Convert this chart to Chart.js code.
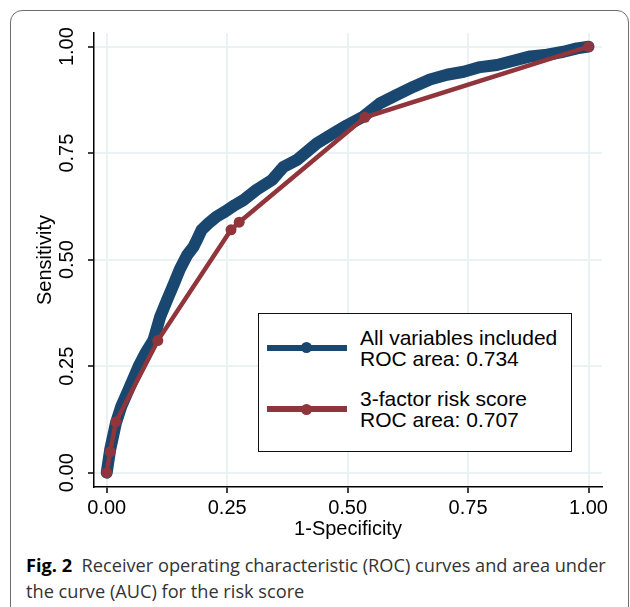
<!DOCTYPE html>
<html>
<head>
<meta charset="utf-8">
<script src="https://cdn.jsdelivr.net/npm/chart.js@4"></script>
<style>
  body { margin: 0; background: #fff; }
  #page { position: relative; width: 630px; height: 607px; overflow: hidden; }
  #frame {
    position: absolute; left: 10px; top: 10px; width: 619px; height: 640px;
    border: 1.5px solid #6e6e6e; border-radius: 12px; box-sizing: border-box;
  }
  #wrap { position: absolute; left: 0; top: 0; width: 630px; height: 545px; }
  #legend {
    position: absolute; left: 258px; top: 313px; width: 314px; height: 139px;
    border: 1.5px solid #111; box-sizing: border-box; background: #fff;
    font-family: "Liberation Sans", Arial, sans-serif; font-size: 21px; line-height: 21px; color: #000;
  }
  .swatch { position: absolute; left: 8px; width: 80px; height: 6px; }
  .dot { position: absolute; left: 34px; top: -2.5px; width: 11px; height: 11px; border-radius: 50%; }
  .txt { position: absolute; left: 101px; white-space: nowrap; }
  #caption {
    position: absolute; left: 26px; top: 552px; width: 596px;
    font-family: "Open Sans", "Noto Sans", sans-serif; font-size: 18.2px; line-height: 26px; color: #333;
  }
  #caption b { color: #000; }
</style>
</head>
<body>
<div id="page">
  <div id="frame"></div>
  <div id="wrap"><canvas id="roc"></canvas></div>
  <div id="legend"></div>
  <div id="caption"><b>Fig. 2</b>&nbsp; Receiver operating characteristic (ROC) curves and area under the curve (AUC) for the risk score</div>
</div>
<script>
// datos
const seriesNames = ['All variables included', '3-factor risk score'];
const rocAreas = ['0.734', '0.707'];
const seriesColors = ['#1a476f', '#90353b'];

const allFpr = [0, 0.007, 0.019, 0.030, 0.045, 0.066, 0.080, 0.097, 0.111, 0.125, 0.140, 0.152,
  0.167, 0.180, 0.187, 0.197, 0.211, 0.228, 0.246, 0.266, 0.284, 0.311, 0.343, 0.367, 0.395,
  0.436, 0.471, 0.498, 0.533, 0.567, 0.602, 0.637, 0.671, 0.706, 0.741, 0.775, 0.810, 0.844,
  0.879, 0.914, 0.948, 0.976, 1];
const allTpr = [0, 0.053, 0.116, 0.155, 0.194, 0.249, 0.280, 0.311, 0.366, 0.405, 0.445, 0.478,
  0.511, 0.530, 0.546, 0.570, 0.585, 0.601, 0.613, 0.628, 0.640, 0.664, 0.687, 0.718, 0.734,
  0.773, 0.797, 0.815, 0.836, 0.867, 0.887, 0.906, 0.923, 0.934, 0.941, 0.952, 0.957, 0.967,
  0.977, 0.981, 0.988, 0.996, 1];

const riskFpr = [0, 0.007, 0.019, 0.106, 0.258, 0.275, 0.536, 1];
const riskTpr = [0, 0.049, 0.119, 0.310, 0.570, 0.588, 0.834, 1];

const tickValues = [0, 0.25, 0.5, 0.75, 1];
const tickLabels = ['0.00', '0.25', '0.50', '0.75', '1.00'];

function toPoints(xs, ys) {
  return xs.map((x, i) => ({ x: x, y: ys[i] }));
}

function buildLegend() {
  const legend = document.getElementById('legend');
  const rows = [30.5, 92];
  const texts = [13.2, 74.2];
  seriesNames.forEach((name, i) => {
    const sw = document.createElement('div');
    sw.className = 'swatch';
    sw.style.top = rows[i] + 'px';
    sw.style.background = seriesColors[i];
    const dot = document.createElement('div');
    dot.className = 'dot';
    dot.style.background = seriesColors[i];
    sw.appendChild(dot);
    legend.appendChild(sw);
    const t = document.createElement('div');
    t.className = 'txt';
    t.style.top = texts[i] + 'px';
    t.innerHTML = name + '<br>ROC area: ' + rocAreas[i];
    legend.appendChild(t);
  });
}

const axisFont = { family: '"Liberation Sans", Arial, sans-serif', size: 20 };

function axisOptions(titleText, isY) {
  return {
    type: 'linear',
    min: isY ? -0.0336 : -0.0264,
    max: isY ? 1.032 : 1.028,
    afterBuildTicks: s => { s.ticks = tickValues.map(v => ({ value: v })); },
    afterFit: s => { if (isY) s.width = 94; else s.height = 58; },
    grid: { color: '#eaf2f3', lineWidth: 2, tickColor: '#000', tickWidth: 1.5, tickLength: 6 },
    border: { display: true, color: '#000', width: 1.5 },
    ticks: {
      color: '#000', font: axisFont, padding: isY ? 1.5 : 3,
      minRotation: isY ? 90 : 0, maxRotation: isY ? 90 : 0,
      crossAlign: isY ? 'center' : 'near',
      callback: (v, i) => tickLabels[i]
    },
    title: {
      display: true, text: titleText, color: '#000', font: axisFont,
      padding: isY ? { top: 33 } : { bottom: 4, top: 0 }
    }
  };
}

function initializeChart() {
  const ctx = document.getElementById('roc').getContext('2d');
  new Chart(ctx, {
    type: 'scatter',
    data: {
      datasets: [{
        label: seriesNames[1],
        data: toPoints(riskFpr, riskTpr),
        showLine: true,
        borderColor: seriesColors[1],
        backgroundColor: seriesColors[1],
        borderWidth: 4.5,
        pointRadius: 5.5,
        pointBorderWidth: 0,
        order: 0
      }, {
        label: seriesNames[0],
        data: toPoints(allFpr, allTpr),
        showLine: true,
        borderColor: seriesColors[0],
        backgroundColor: seriesColors[0],
        borderWidth: 12,
        borderJoinStyle: 'round',
        borderCapStyle: 'round',
        pointRadius: 0,
        order: 1
      }]
    },
    options: {
      responsive: true,
      maintainAspectRatio: false,
      animation: false,
      layout: { padding: { left: 0, top: 33, right: 28, bottom: 0 } },
      plugins: { legend: { display: false }, tooltip: { enabled: false } },
      scales: {
        x: axisOptions('1-Specificity', false),
        y: axisOptions('Sensitivity', true)
      }
    }
  });
}

buildLegend();
initializeChart();
</script>
</body>
</html>
